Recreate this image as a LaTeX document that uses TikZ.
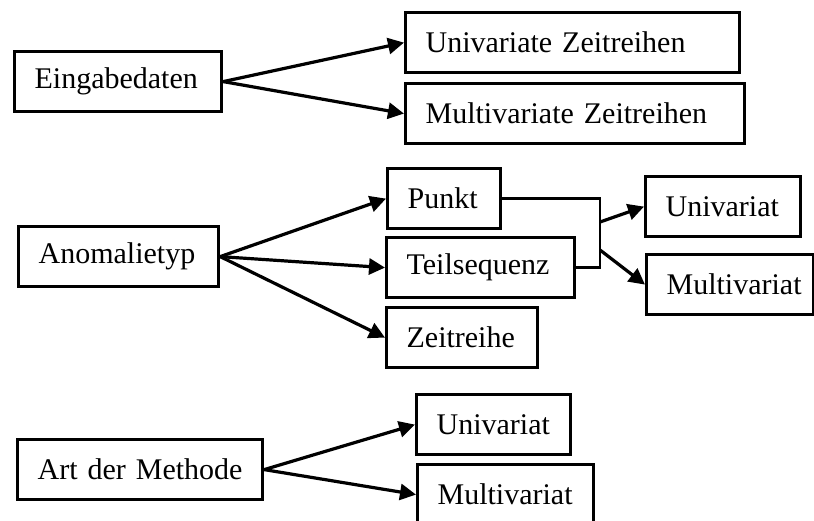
\documentclass[tikz,border=0pt]{standalone}
\usepackage{fontspec}
\setmainfont{Liberation Serif}
\usetikzlibrary{arrows.meta}
\tikzset{
	box/.style={draw, line width=1.6pt, anchor=north west, inner xsep=10pt, inner ysep=0pt,
		minimum height=30pt, align=left, font=\fontsize{15}{18}\selectfont},
	arr/.style={line width=1.6pt, -{Triangle[length=8pt,width=8pt]}},
	bracketline/.style={line width=1.2pt},
}
\begin{document}
\begin{tikzpicture}[x=0.5pt,y=-0.5pt]
		\useasboundingbox (0,0) rectangle (814,520);
		% Eingabedaten
		\node [box, text width=83.5pt] (eingabe) at (13,50) {Eingabedaten};
		\node [box, text width=147pt] (uniZR) at (404,11) {Univariate~Zeitreihen};
		\node [box, text width=149.5pt] (multiZR) at (404,82) {Multivariate~Zeitreihen};
		\draw [arr] (eingabe.east)--(uniZR.west);
		\draw [arr] (eingabe.east)--(multiZR.west);
		% Anomalietyp
		\node [box, text width=80pt] (anomalie) at (17,225) {Anomalietyp};
		\node [box, text width=36.5pt] (punkt) at (386,167) {Punkt};
		\node [box, text width=74pt] (teilseq) at (385,236) {Teilsequenz};
		\node [box, text width=55.5pt] (zeitreihe) at (385,306) {Zeitreihe};
		\node [box, text width=57.5pt] (univA) at (644,175) {Univariat};
		\node [box, text width=63.5pt] (multivA) at (645,253) {Multivariat};
		\draw [arr] (anomalie.east)--(punkt.west);
		\draw [arr] (anomalie.east)--(teilseq.west);
		\draw [arr] (anomalie.east)--(zeitreihe.west);
		\coordinate (j1) at (600,222);
		\coordinate (j2) at (600,250);
		\draw [bracketline] (punkt.east)-|(j1)--(j2)|-(teilseq.east);
		\draw [arr] (j1)--(univA.west);
		\draw [arr] (j2)--(multivA.west);
		% Art der Methode
		\node [box, text width=102.5pt] (methode) at (16,438) {Art~der~Methode};
		\node [box, text width=57pt] (univB) at (415,393) {Univariat};
		\node [box, text width=68pt] (multivB) at (416,463) {Multivariat};
		\draw [arr] (methode.east)--(univB.west);
		\draw [arr] (methode.east)--(multivB.west);
\end{tikzpicture}
\end{document}
